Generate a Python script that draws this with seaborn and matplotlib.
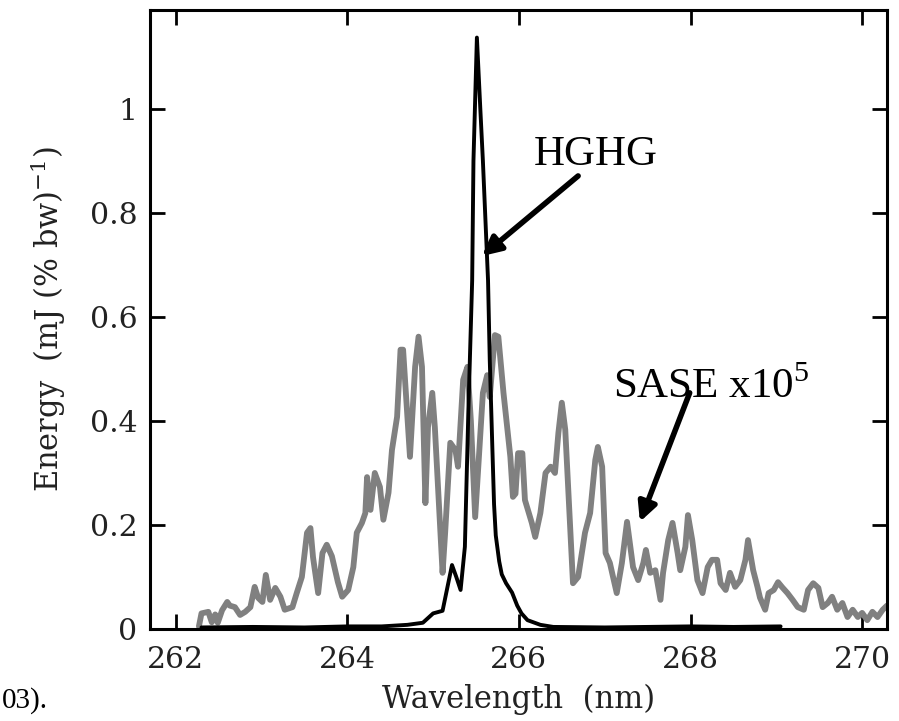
import matplotlib
matplotlib.use("Agg")
import matplotlib.pyplot as plt
import seaborn as sns
import pandas as pd

# ---------------- data ----------------
sase_wl = [262.27, 262.30, 262.38, 262.42, 262.46, 262.49, 262.54, 262.60, 262.63, 262.69,
           262.75, 262.81, 262.87, 262.92, 262.96, 263.01, 263.05, 263.10, 263.16, 263.22,
           263.27, 263.36, 263.41, 263.47, 263.53, 263.57, 263.60, 263.66, 263.71, 263.76,
           263.82, 263.89, 263.94, 264.01, 264.07, 264.11, 264.17, 264.21, 264.23, 264.27,
           264.32, 264.38, 264.42, 264.48, 264.52, 264.58, 264.62, 264.65, 264.73, 264.79,
           264.83, 264.87, 264.91, 264.94, 264.99, 265.02, 265.11, 265.14, 265.20, 265.26,
           265.29, 265.35, 265.40, 265.44, 265.49, 265.58, 265.63, 265.66, 265.72, 265.76,
           265.82, 265.90, 265.93, 265.96, 265.99, 266.04, 266.07, 266.15, 266.19, 266.25,
           266.31, 266.37, 266.42, 266.46, 266.50, 266.54, 266.60, 266.63, 266.69, 266.77,
           266.83, 266.89, 266.92, 266.97, 267.01, 267.06, 267.14, 267.20, 267.26, 267.33,
           267.39, 267.45, 267.48, 267.53, 267.59, 267.65, 267.68, 267.74, 267.79, 267.85,
           267.88, 267.94, 267.97, 268.02, 268.08, 268.14, 268.20, 268.25, 268.31, 268.35,
           268.41, 268.46, 268.52, 268.58, 268.64, 268.67, 268.73, 268.78, 268.81, 268.87,
           268.91, 268.97, 269.02, 269.07, 269.13, 269.19, 269.25, 269.32, 269.37, 269.43,
           269.49, 269.54, 269.60, 269.65, 269.71, 269.77, 269.83, 269.89, 269.95, 270.00,
           270.06, 270.12, 270.18, 270.24, 270.29]
sase_energy = [0.005, 0.030, 0.033, 0.013, 0.028, 0.012, 0.036, 0.052, 0.045, 0.042,
               0.027, 0.033, 0.042, 0.081, 0.060, 0.052, 0.104, 0.056, 0.079, 0.062,
               0.037, 0.042, 0.069, 0.100, 0.185, 0.194, 0.138, 0.069, 0.146, 0.162,
               0.140, 0.090, 0.062, 0.075, 0.119, 0.185, 0.204, 0.223, 0.292, 0.229,
               0.300, 0.273, 0.210, 0.262, 0.344, 0.408, 0.537, 0.537, 0.331, 0.504,
               0.562, 0.504, 0.242, 0.388, 0.454, 0.388, 0.108, 0.185, 0.358, 0.344,
               0.312, 0.479, 0.504, 0.400, 0.215, 0.454, 0.488, 0.446, 0.565, 0.562,
               0.454, 0.331, 0.254, 0.260, 0.338, 0.338, 0.248, 0.204, 0.177, 0.223,
               0.300, 0.312, 0.300, 0.377, 0.435, 0.383, 0.185, 0.088, 0.100, 0.185,
               0.223, 0.325, 0.350, 0.312, 0.146, 0.127, 0.069, 0.127, 0.206, 0.119,
               0.094, 0.127, 0.152, 0.108, 0.113, 0.056, 0.108, 0.171, 0.204, 0.146,
               0.113, 0.158, 0.219, 0.171, 0.094, 0.069, 0.119, 0.133, 0.133, 0.088,
               0.075, 0.108, 0.081, 0.094, 0.133, 0.171, 0.113, 0.081, 0.060, 0.037,
               0.069, 0.075, 0.090, 0.080, 0.069, 0.056, 0.042, 0.037, 0.075, 0.088,
               0.079, 0.042, 0.050, 0.062, 0.037, 0.050, 0.023, 0.037, 0.023, 0.031,
               0.017, 0.033, 0.023, 0.037, 0.045]

hghg_wl = [262.30, 262.90, 263.50, 264.00, 264.40, 264.70, 264.88, 265.00, 265.11, 265.16,
           265.22, 265.27, 265.32, 265.37, 265.41, 265.455, 265.47, 265.51, 265.55, 265.58,
           265.64, 265.66, 265.69, 265.71, 265.73, 265.77, 265.80, 265.85, 265.92, 265.98,
           266.03, 266.10, 266.25, 266.40, 267.00, 268.00, 268.50, 269.05]
hghg_energy = [0.003, 0.004, 0.003, 0.005, 0.005, 0.008, 0.012, 0.030, 0.035, 0.075,
               0.123, 0.100, 0.075, 0.158, 0.415, 0.670, 0.900, 1.137, 1.000, 0.900,
               0.670, 0.517, 0.350, 0.240, 0.180, 0.130, 0.105, 0.088, 0.070, 0.045,
               0.030, 0.017, 0.008, 0.004, 0.003, 0.005, 0.004, 0.005]

x_ticks = [262, 264, 266, 268, 270]
y_ticks = [0, 0.2, 0.4, 0.6, 0.8, 1.0]
y_tick_labels = ["0", "0.2", "0.4", "0.6", "0.8", "1"]

# ---------------- style ----------------
sns.set_theme(style="ticks")
plt.rcParams["font.family"] = ["DejaVu Serif"]
plt.rcParams["mathtext.fontset"] = "dejavuserif"

fig = plt.figure(figsize=(8.99, 7.21), dpi=100)
ax = fig.add_axes([150 / 899, 92 / 721, 737 / 899, 619 / 721])

sase_df = pd.DataFrame({"wl": sase_wl, "E": sase_energy})
hghg_df = pd.DataFrame({"wl": hghg_wl, "E": hghg_energy})

sns.lineplot(data=sase_df, x="wl", y="E", ax=ax, color="#808080", linewidth=4.2,
             sort=False, estimator=None)
sns.lineplot(data=hghg_df, x="wl", y="E", ax=ax, color="black", linewidth=2.8,
             sort=False, estimator=None)

ax.set_xlim(261.70, 270.29)
ax.set_ylim(0, 1.19)
ax.set_xticks(x_ticks)
ax.set_xticklabels([str(t) for t in x_ticks])
ax.set_yticks(y_ticks)
ax.set_yticklabels(y_tick_labels)

for s in ax.spines.values():
    s.set_visible(True)
    s.set_linewidth(2.2)
    s.set_color("black")

ax.tick_params(axis="both", direction="in", length=11, width=2.0, color="black",
               top=True, right=True, labelsize=21.5, labelcolor="#222222")
ax.tick_params(axis="y", pad=9)
ax.tick_params(axis="x", pad=12)

ax.set_xlabel("Wavelength  (nm)", fontsize=22, color="#222222", labelpad=7)
ax.set_ylabel("Energy  (mJ (% bw)$^{-1}$)", fontsize=22, color="#222222", labelpad=16)

# annotations
ax.annotate("", xy=(265.57, 0.717), xytext=(266.69, 0.871),
            arrowprops=dict(arrowstyle="-|>", lw=4, color="black", mutation_scale=28,
                            shrinkA=0, shrinkB=0))
ax.text(266.17, 0.892, "HGHG", fontsize=31, family="Liberation Serif", color="black",
        va="baseline", ha="left")

ax.annotate("", xy=(267.41, 0.206), xytext=(267.99, 0.454),
            arrowprops=dict(arrowstyle="-|>", lw=4, color="black", mutation_scale=28,
                            shrinkA=0, shrinkB=0))
ax.text(267.10, 0.446, "SASE x10$^\\mathregular{5}$", fontsize=31,
        family="Liberation Serif", color="black", va="baseline", ha="left")

fig.text(0.002, 0.018, "03).", fontsize=21, family="Liberation Serif",
         color="black", va="baseline", ha="left")

fig.savefig("out.png", dpi=100)
